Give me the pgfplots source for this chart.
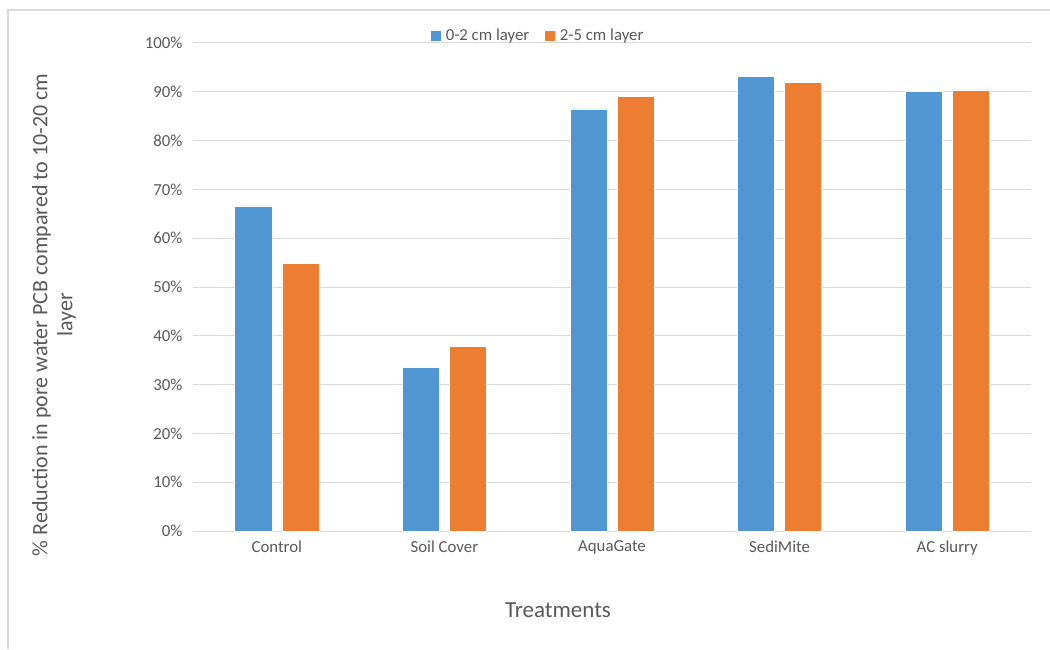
\documentclass[border=0pt]{standalone}
\usepackage{pgfplots}
\pgfplotsset{compat=1.18}
\usepackage{fontspec}
\setmainfont{Carlito}
\definecolor{cblue}{HTML}{5096D2}
\definecolor{corange}{HTML}{ED7D31}
\definecolor{gridc}{HTML}{D9D9D9}
\definecolor{txt}{HTML}{595959}
\begin{document}
\begin{tikzpicture}[x=1pt,y=1pt]
\useasboundingbox (0,0) rectangle (1050,649);
\draw[gridc, line width=1.2pt] (8,0) -- (8,639) -- (1050,639);
\begin{axis}[
  at={(193pt,118pt)}, anchor=south west,
  scale only axis, width=838pt, height=488pt,
  xmin=-0.5, xmax=4.5, ymin=0, ymax=1,
  ytick={0,0.1,0.2,0.3,0.4,0.5,0.6,0.7,0.8,0.9,1.0},
  yticklabels={0\%,10\%,20\%,30\%,40\%,50\%,60\%,70\%,80\%,90\%,100\%},
  xtick={0,1,2,3,4},
  xticklabels={Control,Soil Cover,AquaGate,SediMite,AC slurry},
  axis x line*=bottom, axis y line*=left,
  x axis line style={gridc, line width=1pt, -},
  y axis line style={draw=none},
  major tick length=0pt,
  ymajorgrids, grid style={gridc, line width=1pt},
  tick label style={font=\fontsize{16.8}{18}\selectfont, text=txt},
  /pgf/number format/assume math mode=true,
  yticklabel style={xshift=-7pt},
  xticklabel style={yshift=-6pt},
  ylabel={\% Reduction in pore water PCB compared to 10-20 cm\\layer},
  ylabel style={at={(axis description cs:-0.166,0.443)}, anchor=center, align=center,
    font=\fontsize{22}{25}\selectfont, text=txt},
  xlabel={Treatments},
  xlabel style={at={(axis description cs:0.4356,-0.162)}, anchor=center,
    font=\fontsize{23}{25}\selectfont, text=txt},
  legend columns=2,
  legend style={at={(axis description cs:0.412,1.015)}, anchor=center, draw=none, fill=none,
    font=\fontsize{16.8}{18}\selectfont, text=txt,
    /tikz/every odd column/.append style={column sep=3pt},
    /tikz/every even column/.append style={column sep=14pt}},
  ybar, bar width=37pt,
  clip=false,
]
\addplot[fill=cblue, draw=white, line width=0.6pt, bar shift=-23.5pt,
  legend image code/.code={\fill[cblue] (0pt,-4.5pt) rectangle (9pt,4.5pt);}] coordinates {(0,0.666) (1,0.336) (2,0.865) (3,0.932) (4,0.900)};
\addlegendentry{0-2 cm layer}
\addplot[fill=corange, draw=white, line width=0.6pt, bar shift=23.5pt,
  legend image code/.code={\fill[corange] (0pt,-4.5pt) rectangle (9pt,4.5pt);}] coordinates {(0,0.548) (1,0.378) (2,0.890) (3,0.920) (4,0.904)};
\addlegendentry{2-5 cm layer}
\end{axis}
\end{tikzpicture}
\end{document}
